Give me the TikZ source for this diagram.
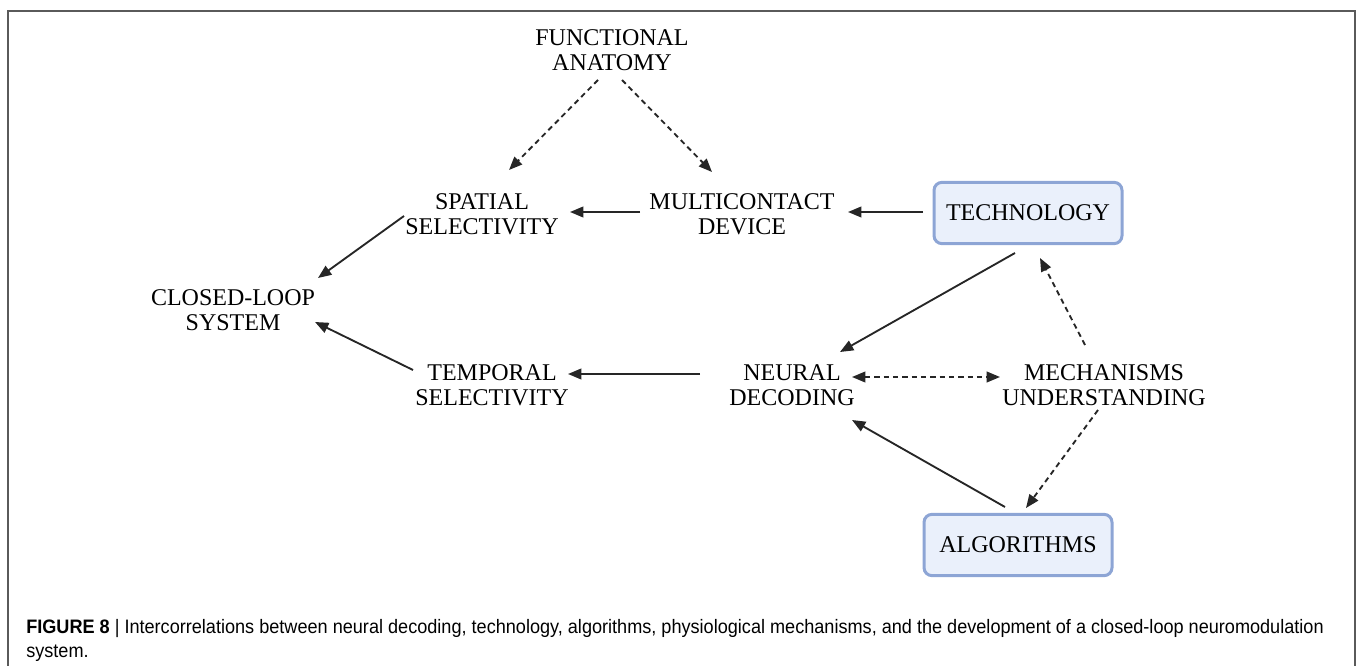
\documentclass[tikz,border=0pt]{standalone}
\usepackage{fontspec}
\setmainfont{Liberation Serif}
\newfontfamily\capfont[FakeStretch=0.93]{Liberation Sans}
\usetikzlibrary{arrows.meta,calc}
\definecolor{boxblue}{HTML}{8DA5D5}
\definecolor{boxfill}{HTML}{EAF0FB}
\definecolor{framegray}{HTML}{5A5A5A}

\begin{document}
\begin{tikzpicture}[x=0.75pt,y=-0.75pt,>={Triangle[length=10pt,width=8pt]},
  lbl/.style={align=center,font=\fontsize{18}{19}\selectfont,inner sep=0pt},
  box/.style={lbl,draw=boxblue,fill=boxfill,line width=2.25pt,rounded corners=6pt,minimum width=141pt,minimum height=46pt},
  arr/.style={->,line width=1.4pt,black!85},
  darr/.style={arr,dash pattern=on 4pt off 3pt}]

\useasboundingbox (0,0) rectangle (1358,666);
\draw[framegray,line width=1.5pt] (8,666) -- (8,11) -- (1355,11) -- (1355,666);

% labels
\node[lbl] (anat) at (612,50) {FUNCTIONAL\\ANATOMY};
\node[lbl] (spat) at (482,214) {SPATIAL\\SELECTIVITY};
\node[lbl] (multi) at (742,214) {MULTICONTACT\\DEVICE};
\node[box] (tech) at (1028,213) {TECHNOLOGY};
\node[lbl] (loop) at (233,310) {CLOSED-LOOP\\SYSTEM};
\node[lbl] (temp) at (492,385) {TEMPORAL\\SELECTIVITY};
\node[lbl] (decod) at (792,385) {NEURAL\\DECODING};
\node[lbl] (mech) at (1104,385) {MECHANISMS\\UNDERSTANDING};
\node[box] (algo) at (1018,545) {ALGORITHMS};

% connectors
\draw[darr] ($(anat)+(-14,30)$) -- ($(spat)+(27,-44)$);
\draw[darr] ($(anat)+(10,30)$) -- ($(multi)+(-30,-42)$);
\draw[arr] ($(multi)+(-102,-2)$) -- ($(spat)+(88,-2)$);
\draw[arr] ($(tech)+(-105,-1)$) -- ($(multi)+(106,-2)$);
\draw[arr] ($(spat)+(-78,2)$) -- ($(loop)+(85,-32)$);
\draw[arr] ($(temp)+(-79,-15)$) -- ($(loop)+(82,12)$);
\draw[arr] ($(decod)+(-92,-11)$) -- ($(temp)+(76,-11)$);
\draw[arr] ($(tech)+(-13,40)$) -- ($(decod)+(48,-33)$);
\draw[darr] ($(mech)+(-19,-40)$) -- ($(tech)+(12,45)$);
\draw[darr,<->] ($(decod)+(60,-8)$) -- ($(mech)+(-104,-8)$);
\draw[darr] ($(mech)+(-6,25)$) -- ($(algo)+(8,-37)$);
\draw[arr] ($(algo)+(-13,-38)$) -- ($(decod)+(60,35)$);

\node[anchor=north west,align=left,inner sep=0pt,font=\capfont\fontsize{14.6}{18}\selectfont] (cap) at (26,619)
  {\textbf{FIGURE 8} | Intercorrelations between neural decoding, technology, algorithms, physiological mechanisms, and the development of a closed-loop neuromodulation\\system.};
\end{tikzpicture}
\end{document}
